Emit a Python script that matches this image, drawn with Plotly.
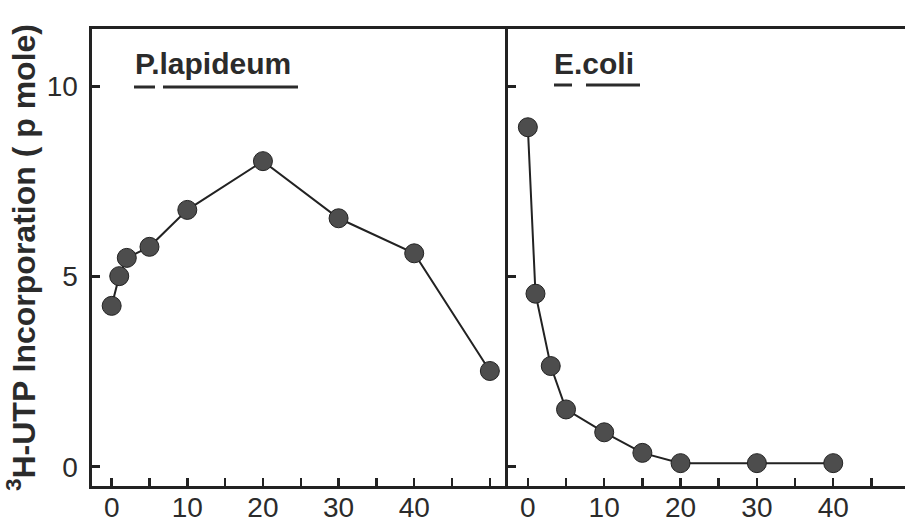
import plotly.graph_objects as go

# ---- data ----
p_time = [0, 1, 2, 5, 10, 20, 30, 40, 50]
p_vals = [4.23, 5.01, 5.49, 5.78, 6.75, 8.03, 6.53, 5.61, 2.52]
e_time = [0, 1, 3, 5, 10, 15, 20, 30, 40]
e_vals = [8.92, 4.55, 2.65, 1.51, 0.91, 0.37, 0.10, 0.10, 0.10]

y_ticks = [0, 5, 10]
x_ticks_left = [0, 5, 10, 15, 20, 25, 30, 35, 40, 45, 50]
x_ticks_right = [0, 5, 10, 15, 20, 25, 30, 35, 40, 45]
label_vals = {0, 10, 20, 30, 40}

FONT = "Liberation Sans, Arial, Helvetica, sans-serif"
INK = "#222222"
TXT = "#2b2b2b"

fig = go.Figure()
marker = dict(size=19, color="#4d4d4d", line=dict(color="#222222", width=1))
fig.add_trace(go.Scatter(x=p_time, y=p_vals, mode="lines+markers",
                         line=dict(color=INK, width=2), marker=marker,
                         xaxis="x", yaxis="y", showlegend=False))
fig.add_trace(go.Scatter(x=e_time, y=e_vals, mode="lines+markers",
                         line=dict(color=INK, width=2), marker=marker,
                         xaxis="x2", yaxis="y2", showlegend=False))

W, H = 905, 519
L, R, T, B = 92, 0, 29, 33
split = (508 - L) / (W - L - R)

def xax(domain, rng, ticks, anchor):
    return dict(domain=domain, range=rng, anchor=anchor, automargin=False,
                showgrid=False, zeroline=False,
                showline=True, linecolor=INK, linewidth=3, mirror=True,
                ticks="inside", ticklen=8, tickwidth=2.5, tickcolor=INK,
                tickvals=ticks,
                ticktext=[str(t) if t in label_vals else " " for t in ticks],
                tickfont=dict(family=FONT, size=28, color=TXT),
                ticklabelstandoff=-6,
                fixedrange=True)

fig.update_layout(
    width=W, height=H,
    margin=dict(l=L, r=R, t=T, b=B, autoexpand=False),
    paper_bgcolor="white", plot_bgcolor="white",
    xaxis=xax([0, split], [-2.6, 52.4], x_ticks_left, "y"),
    xaxis2=xax([split, 1], [-2.6, 49.4], x_ticks_right, "y2"),
    yaxis=dict(range=[-0.5, 11.5], automargin=False, showgrid=False, zeroline=False,
               showline=True, linecolor=INK, linewidth=3,
               ticks="inside", ticklen=8, tickwidth=3, tickcolor=INK,
               tickvals=y_ticks, ticktext=[str(v) + "\u2009" for v in y_ticks],
               tickfont=dict(family=FONT, size=28, color=TXT),
               title=dict(text="<sup>3</sup>H-UTP Incorporation (&nbsp;p mole)",
                          font=dict(family=FONT, size=32, color=TXT, weight="bold"),
                          standoff=2),
               fixedrange=True),
    yaxis2=dict(range=[-0.5, 11.5], anchor="x2", automargin=False,
                showgrid=False, zeroline=False,
                showline=True, linecolor=INK, linewidth=3,
                ticks="inside", ticklen=8, tickwidth=3, tickcolor=INK,
                tickvals=y_ticks, showticklabels=False, fixedrange=True),
    font=dict(family=FONT, color=TXT),
)

lab_font = dict(family=FONT, size=30, color=TXT, weight="bold")
fig.add_annotation(text="P.lapideum", xref="x domain", yref="y domain",
                   x=(133 - 92) / 416, y=(486 - 64) / 457, xanchor="left",
                   yanchor="middle", showarrow=False, font=lab_font)
fig.add_annotation(text="E.coli", xref="x2 domain", yref="y2 domain",
                   x=(552 - 508) / 397, y=(486 - 64) / 457, xanchor="left",
                   yanchor="middle", showarrow=False, font=lab_font)

ul = dict(color=TXT, width=3)
for (x0, x1) in [(134, 155), (163, 298)]:
    fig.add_shape(type="line", xref="x domain", yref="y domain",
                  x0=(x0 - 92) / 416, x1=(x1 - 92) / 416,
                  y0=(486 - 87) / 457, y1=(486 - 87) / 457, line=ul)
for (x0, x1) in [(554, 572), (586, 640)]:
    fig.add_shape(type="line", xref="x2 domain", yref="y2 domain",
                  x0=(x0 - 508) / 397, x1=(x1 - 508) / 397,
                  y0=(486 - 85) / 457, y1=(486 - 85) / 457, line=ul)

fig.write_html("out.html",
               config={"displayModeBar": False, "staticPlot": True},
               post_script="document.body.style.margin='0';"
                           "document.body.style.overflow='hidden';")
